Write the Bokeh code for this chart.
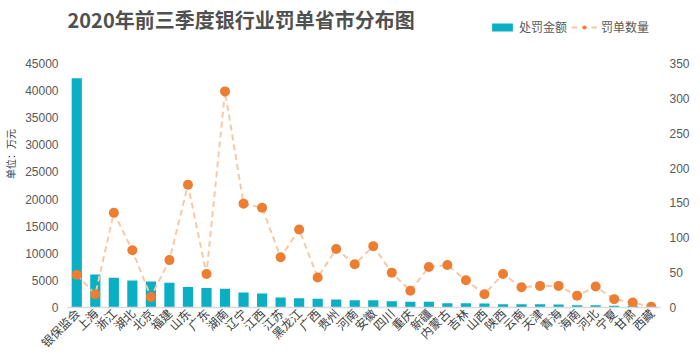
from bokeh.plotting import figure
from bokeh.models import (ColumnDataSource, Range1d, LinearAxis, FixedTicker, Legend, LegendItem, Label, FactorRange)
from bokeh.embed import file_html
from bokeh.resources import INLINE
import math

categories = ["银保监会", "上海", "浙江", "湖北", "北京", "福建", "山东", "广东", "湖南", "辽宁",
              "江西", "江苏", "黑龙江", "广西", "贵州", "河南", "安徽", "四川", "重庆", "新疆",
              "内蒙古", "吉林", "山西", "陕西", "云南", "天津", "青海", "海南", "河北", "宁夏",
              "甘肃", "西藏"]
amount = [42300, 6100, 5500, 5000, 4800, 4550, 3800, 3600, 3450, 2770,
          2580, 1850, 1720, 1600, 1480, 1350, 1350, 1170, 1045, 1045,
          800, 800, 740, 615, 615, 615, 550, 430, 430, 310,
          310, 120]
count = [47, 19, 136, 82, 15, 68, 176, 48, 310, 149,
         143, 72, 112, 43, 84, 62, 88, 50, 24, 58,
         61, 39, 19, 48, 29, 31, 31, 17, 30, 12,
         7, 1]
left_ticks = [0, 5000, 10000, 15000, 20000, 25000, 30000, 35000, 40000, 45000]
right_ticks = [0, 50, 100, 150, 200, 250, 300, 350]

title_text = "2020年前三季度银行业罚单省市分布图"
bar_name = "处罚金额"
line_name = "罚单数量"
unit_label = "单位：万元"

CJK = "Noto Sans CJK SC"
NUM = "Liberation Sans"
TEAL = "#0AAFC4"
ORANGE = "#ED7D31"
LIGHT_ORANGE = "#F8C9A6"
GRAY = "#595959"

# layout geometry (page pixels; the page is drawn from the top-left corner)
W, H = 700, 362
FRAME_TOP = 0
FRAME_BOTTOM = 307
TICK_TOP = 63
span = FRAME_BOTTOM - TICK_TOP
left_max = left_ticks[-1] * (FRAME_BOTTOM - FRAME_TOP) / span
right_max = right_ticks[-1] * (FRAME_BOTTOM - FRAME_TOP) / span

src = ColumnDataSource(dict(cat=categories, amount=amount, count=count))

p = figure(width=W, height=H, output_backend="svg", toolbar_location=None,
           x_range=FactorRange(*categories, range_padding=0),
           y_range=Range1d(0, left_max),
           min_border_left=62, min_border_right=40, min_border_top=FRAME_TOP,
           min_border_bottom=H - FRAME_BOTTOM, outline_line_color=None)
p.title = None
p.extra_y_ranges = {"cnt": Range1d(0, right_max)}

bars = p.vbar(x="cat", top="amount", width=0.55, source=src, fill_color=TEAL, line_color=None)
line = p.line(x="cat", y="count", source=src, y_range_name="cnt", line_color=LIGHT_ORANGE,
              line_width=2, line_dash="6 4")
dots = p.scatter(x="cat", y="count", source=src, y_range_name="cnt", size=10,
                 fill_color=ORANGE, line_color=None)

p.xgrid.visible = False
p.ygrid.visible = False

# left axis
yax = p.yaxis[0]
yax.ticker = FixedTicker(ticks=left_ticks)
yax.axis_line_color = None
yax.major_tick_line_color = None
yax.minor_tick_line_color = None
yax.major_tick_out = 0
yax.major_label_text_font = NUM
yax.major_label_text_font_size = "12px"
yax.major_label_text_color = GRAY
yax.major_label_standoff = 9
yax.axis_label = unit_label
yax.axis_label_text_font = CJK
yax.axis_label_text_font_size = "10px"
yax.axis_label_text_font_style = "normal"
yax.axis_label_text_color = "#404040"
yax.axis_label_standoff = 4

# right axis
rax = LinearAxis(y_range_name="cnt", ticker=FixedTicker(ticks=right_ticks))
rax.axis_line_color = None
rax.major_tick_line_color = None
rax.minor_tick_line_color = None
rax.major_tick_out = 0
rax.major_label_text_font = NUM
rax.major_label_text_font_size = "12px"
rax.major_label_text_color = GRAY
rax.major_label_standoff = 9
p.add_layout(rax, "right")

# x axis
xax = p.xaxis[0]
xax.axis_line_color = "#D9D9D9"
xax.axis_line_width = 1.5
xax.major_tick_line_color = None
xax.minor_tick_line_color = None
xax.major_tick_out = 0
xax.major_label_orientation = math.pi / 4
xax.major_label_text_font = CJK
xax.major_label_text_font_size = "12px"
xax.major_label_text_color = "#404040"
xax.major_label_standoff = 3

# title inside the (extended) frame
title_y = left_ticks[-1] * (FRAME_BOTTOM - 19) / span
p.add_layout(Label(x=0, y=title_y, text=title_text, text_font=CJK, text_font_size="20px",
                   text_font_style="bold", text_color="#505050", text_baseline="middle",
                   text_align="left", x_offset=0))

legend = Legend(items=[LegendItem(label=bar_name, renderers=[bars]),
                       LegendItem(label=line_name, renderers=[line, dots])],
                orientation="horizontal", location=(422, FRAME_BOTTOM - 35),
                label_text_font=CJK, label_text_font_size="12px", label_text_color=GRAY,
                glyph_width=26, glyph_height=10, label_standoff=4, spacing=4,
                padding=0, margin=0, border_line_color=None, background_fill_alpha=0)
p.add_layout(legend, "center")

open("out.html", "w").write(file_html(p, INLINE))
